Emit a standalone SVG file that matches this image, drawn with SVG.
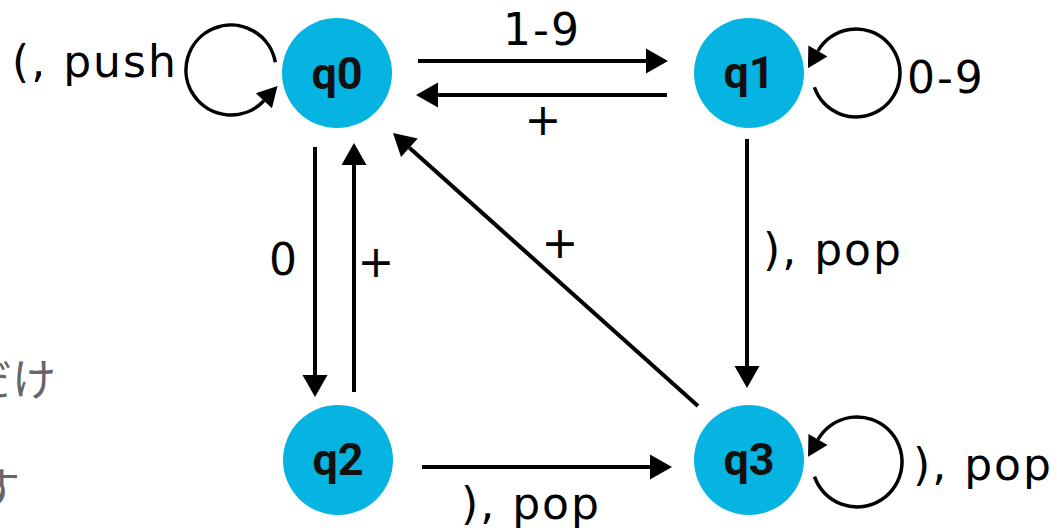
<svg xmlns="http://www.w3.org/2000/svg" width="1057" height="530" viewBox="0 0 1057 530">
<style>
.node{fill:#06B4E2;}
.nl{font-family:Roboto,"Liberation Sans",sans-serif;font-weight:700;font-size:45px;fill:#111;text-anchor:middle;}
.lb{font-family:"DejaVu Sans",Verdana,sans-serif;font-size:44px;fill:#000;letter-spacing:2px;}
.e{stroke:#000;stroke-width:4;fill:none;marker-end:url(#ah);}
.lp{stroke:#000;stroke-width:3.5;fill:none;marker-end:url(#ah2);}
.jp{font-family:"Noto Sans CJK JP",sans-serif;font-size:44px;fill:#666;text-anchor:end;}
</style>
<defs>
<marker id="ah" markerUnits="userSpaceOnUse" markerWidth="24" markerHeight="28" refX="0" refY="12.5" orient="auto" viewBox="0 0 24 25" overflow="visible">
<path d="M0,0 L22,12.5 L0,25 z" fill="#000"/>
</marker>
<marker id="ah2" markerUnits="userSpaceOnUse" markerWidth="24" markerHeight="28" refX="0" refY="11" orient="auto" viewBox="0 0 24 22" overflow="visible">
<path d="M0,0 L20,11 L0,22 z" fill="#000"/>
</marker>
</defs>
<rect width="1057" height="530" fill="#fff"/>
<text class="jp" x="56" y="396">だけ</text>
<text class="jp" x="20" y="505">す</text>
<g id="connectors">
<path class="e" d="M418,61 L646,61"/>
<path class="e" d="M667,95 L438,95"/>
<path class="e" d="M315,147 L315,375"/>
<path class="e" d="M354,392 L354,165"/>
<path class="e" d="M747,139 L747,366"/>
<path class="e" d="M422,467 L650,467"/>
<path class="e" d="M698,406 L409.4,147.7"/>
<path class="lp" d="M275.3,62.2 A45,45 0 1 0 263.9,100.7"/>
<path class="lp" d="M814.4,87.3 A44,44 0 1 0 817.9,51"/>
<path class="lp" d="M814.5,476.6 A45,45 0 1 0 818,439.5"/>
<text class="lb" x="542" y="45" text-anchor="middle">1-9</text>
<text class="lb" x="544" y="135" text-anchor="middle">+</text>
<text class="lb" x="284" y="275" text-anchor="middle">0</text>
<text class="lb" x="377" y="277" text-anchor="middle">+</text>
<text class="lb" x="561" y="258" text-anchor="middle">+</text>
<text class="lb" x="763" y="265">), pop</text>
<text class="lb" x="461" y="519">), pop</text>
<text class="lb" x="12" y="77">(, push</text>
<text class="lb" x="907" y="93">0-9</text>
<text class="lb" x="913" y="480">), pop</text>
</g>
<g id="q0"><circle class="node" cx="337" cy="73" r="55"/><text class="nl" x="337" y="89">q0</text></g>
<g id="q1"><circle class="node" cx="749" cy="73" r="55"/><text class="nl" x="749" y="88">q1</text></g>
<g id="q2"><circle class="node" cx="338" cy="460" r="55"/><text class="nl" x="338" y="475">q2</text></g>
<g id="q3"><circle class="node" cx="749" cy="460" r="55"/><text class="nl" x="749" y="475">q3</text></g>
</svg>
